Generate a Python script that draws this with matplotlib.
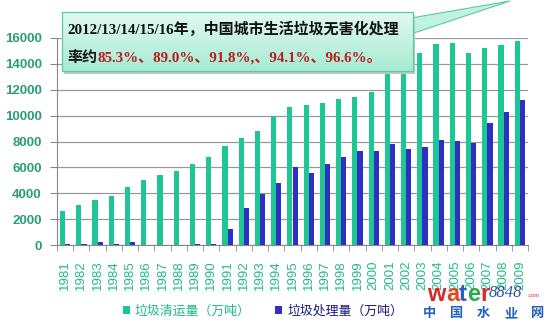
import matplotlib
matplotlib.use("Agg")
import matplotlib.pyplot as plt
import numpy as np
from matplotlib.patches import Polygon, Rectangle
from matplotlib.colors import LinearSegmentedColormap

years = [str(y) for y in range(1981, 2010)]
collected = [2606, 3125, 3452, 3757, 4477, 5009, 5398, 5751, 6291, 6767,
             7636, 8262, 8791, 9952, 10671, 10825, 10982, 11302, 11415, 11819,
             13470, 13650, 14857, 15509, 15577, 14841, 15215, 15438, 15734]
treated = [100, 100, 200, 100, 200, 0, 0, 0, 50, 100,
           1239, 2830, 3945, 4782, 6014, 5568, 6292, 6783, 7233, 7255,
           7840, 7404, 7545, 8089, 8051, 7873, 9438, 10307, 11220]
yticks = [0, 2000, 4000, 6000, 8000, 10000, 12000, 14000, 16000]
label_collected = "垃圾清运量（万吨）"
label_treated = "垃圾处理量（万吨）"
title1 = "2012/13/14/15/16年，中国城市生活垃圾无害化处理"
title2a = "率约"
title2b = "85.3%、89.0%、91.8%,、94.1%、96.6%。"
wm_letters = ["w", "a", "t", "e", "r"]
wm_cn = ["中", "国", "水", "业", "网"]

W, H = 554, 328
def fx(x): return x / W
def fy(y): return 1 - y / H

plt.rcParams['font.family'] = ['Liberation Sans', 'Noto Sans CJK SC']
fig = plt.figure(figsize=(W/100, H/100), dpi=100)
fig.patch.set_facecolor('white')
ax = fig.add_axes([fx(57), fy(245), fx(528) - fx(57), fy(38) - fy(245)])

green = '#1dc794'
blue = '#2f2fc4'
x = np.arange(len(years))
bw = 0.32
ax.bar(x - bw/2, collected, width=bw, color=green, zorder=3, label=label_collected)
ax.bar(x + bw/2, treated, width=bw, color=blue, zorder=3, label=label_treated)

ax.set_xlim(-0.5, len(years) - 0.5)
ax.set_ylim(0, 16000)
ax.set_yticks(yticks)
ax.set_yticklabels([str(v) for v in yticks], color='#2a9d78', fontsize=9.5, fontweight='bold')
ax.yaxis.grid(True, color='#999999', linewidth=0.9, zorder=0)
ax.set_xticks(x)
ax.set_xticklabels(years, rotation=90, color='#22bb88', fontsize=9.5)
ax.set_xticks(np.arange(-0.5, len(years)), minor=True)
ax.tick_params(axis='x', which='major', length=0, pad=11)
ax.tick_params(axis='x', which='minor', length=4, color='#888888', direction='out')
ax.tick_params(axis='y', length=5, color='#888888', pad=6)
for s in ['top', 'right']:
    ax.spines[s].set_visible(False)
ax.spines['left'].set_color('#888888')
ax.spines['bottom'].set_color('#888888')

# legend
leg = fig.legend(loc='center', bbox_to_anchor=(fx(263), fy(311)), ncol=2, frameon=False,
                 handlelength=0.55, handleheight=0.55, handletextpad=0.4,
                 columnspacing=1.9, prop={'family': ['Noto Sans CJK SC'], 'size': 9.3})
leg.get_texts()[0].set_color('#1fb98a')
leg.get_texts()[1].set_color('#1a1a80')

# callout box
pointer = Polygon([(fx(411), fy(18)), (fx(510), fy(1)), (fx(411), fy(34))], closed=True,
                  transform=fig.transFigure, facecolor='#bff2e0', edgecolor='#5cc9a7',
                  linewidth=0.8, zorder=9)
fig.patches.append(pointer)
shadow = Rectangle((fx(64), fy(74)), fx(413) - fx(62), fy(12) - fy(71), transform=fig.transFigure,
                   facecolor='#c4c4c4', edgecolor='none', zorder=9)
fig.patches.append(shadow)
bax = fig.add_axes([fx(62), fy(71), fx(413) - fx(62), fy(12) - fy(71)], zorder=10)
grad = np.linspace(0, 1, 50).reshape(-1, 1)
cmap = LinearSegmentedColormap.from_list('g', ['#e2f9f0', '#a6ebd3'])
bax.imshow(grad, aspect='auto', cmap=cmap, extent=[0, 1, 0, 1], origin='upper')
bax.set_xticks([]); bax.set_yticks([])
for s in bax.spines.values():
    s.set_color('#5cc9a7'); s.set_linewidth(0.9)

serif = ['Liberation Serif', 'Noto Sans CJK SC']
fig.text(fx(67), fy(29), title1, family=serif, fontsize=10.8, fontweight='bold',
         color='#111111', va='center', ha='left', zorder=11)
fig.text(fx(67), fy(58), title2a, family=serif, fontsize=10.8, fontweight='bold',
         color='#111111', va='center', ha='left', zorder=11)
fig.text(fx(97), fy(58), title2b, family=serif, fontsize=10.8, fontweight='bold',
         color='#b81c1c', va='center', ha='left', zorder=11)

# watermark
wm_colors = ['#d42a2a', '#e04a1a', '#2a5fc8', '#2aa84a', '#d42a2a']
wm_x = [427, 446, 459, 467, 480]
for ch, c, xx in zip(wm_letters, wm_colors, wm_x):
    fig.text(fx(xx), fy(301), ch, fontsize=17, fontweight='bold', color=c,
             va='baseline', ha='left', family=['Liberation Sans'])
fig.text(fx(489), fy(297), "8848", fontsize=12, style='italic', color='#2a4fb0',
         va='baseline', ha='left', family=['Liberation Serif'])
fig.text(fx(528), fy(297), ".com", fontsize=4, color='#d42a2a',
         va='baseline', ha='left', family=['Liberation Sans'])
for i, ch in enumerate(wm_cn):
    fig.text(fx(423 + i * 27), fy(313), ch, fontsize=9.5, fontweight='bold', color='#1f5fc0',
             va='center', ha='left', family=['Noto Sans CJK SC'])

fig.savefig('out.png', dpi=100)
